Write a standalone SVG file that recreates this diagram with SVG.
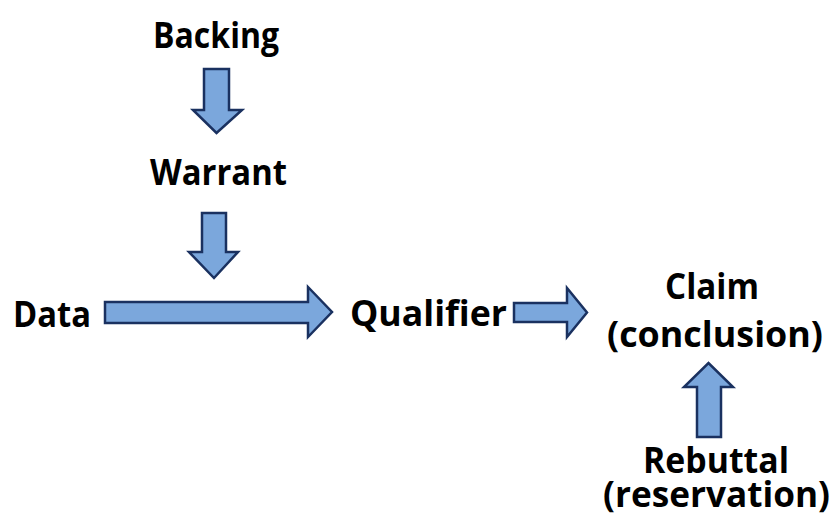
<svg xmlns="http://www.w3.org/2000/svg" width="831" height="522" viewBox="0 0 831 522">
<style>
.lbl{font-family:"Open Sans","Noto Sans","Liberation Sans",sans-serif;font-weight:bold;font-size:35px;fill:#000}
.arr{fill:#7BA7DC;stroke:#1A3160;stroke-width:2.5;stroke-linejoin:miter}
</style>
<rect width="831" height="522" fill="#fff"/>
<g id="backing"><text class="lbl" x="153" y="48" textLength="126" lengthAdjust="spacingAndGlyphs">Backing</text></g>
<g id="warrant"><text class="lbl" x="150" y="185" textLength="137" lengthAdjust="spacingAndGlyphs">Warrant</text></g>
<g id="data"><text class="lbl" x="13" y="327" textLength="78" lengthAdjust="spacingAndGlyphs">Data</text></g>
<g id="qualifier"><text class="lbl" x="350" y="326" textLength="157" lengthAdjust="spacingAndGlyphs">Qualifier</text></g>
<g id="claim">
<text class="lbl" x="665" y="299" textLength="94" lengthAdjust="spacingAndGlyphs">Claim</text>
<text class="lbl" x="607" y="347" textLength="216" lengthAdjust="spacingAndGlyphs">(conclusion)</text>
</g>
<g id="rebuttal">
<text class="lbl" x="643" y="473" textLength="146" lengthAdjust="spacingAndGlyphs">Rebuttal</text>
<text class="lbl" x="603" y="507" textLength="227" lengthAdjust="spacingAndGlyphs">(reservation)</text>
</g>
<g id="connectors">
<path class="arr" d="M204,69 H229 V110 H242 L216.5,133 L193,110 H204 Z"/>
<path class="arr" d="M202,213 H226 V252 H238 L214,278 L189,252 H202 Z"/>
<path class="arr" d="M105,302 H308 V287 L332,312 L308,337 V323 H105 Z"/>
<path class="arr" d="M514,303 H567 V288 L587,312.5 L567,337 V322 H514 Z"/>
<path class="arr" d="M697,437 V387 H684 L708.5,363 L733,387 H721 V437 Z"/>
</g>
</svg>
